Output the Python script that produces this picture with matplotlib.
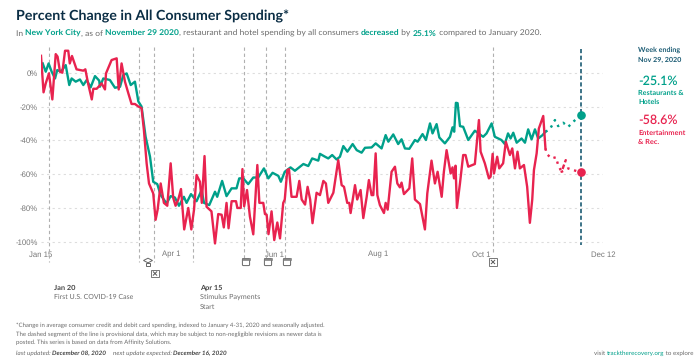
import matplotlib
matplotlib.use("Agg")
import matplotlib.pyplot as plt
from matplotlib.patches import Rectangle, FancyBboxPatch, Polygon

plt.rcParams['font.family'] = ['Lato', 'DejaVu Sans']
plt.rcParams['text.hinting'] = 'no_hinting'

# days counted from Jan 15 2020
red_days = [0, 1.5, 2.8, 4.7, 6.7, 8.7, 9.8, 11.2, 12.6, 14.2, 16.1, 17, 18.3, 21, 25, 26.2, 27.8, 30, 30.9, 32.9,
            35.8, 37.8, 38.4, 41.7, 44.7, 45.9, 47.6, 49.6, 51.6, 53.5, 55.5, 57.5, 59.4, 60.8, 62.4, 63.8, 66.3, 67.7, 68.9, 70.7,
            72.6, 74.6, 76.6, 78.1, 79.5, 81.1, 82.7, 84.6, 87, 88.8, 90.4, 91.9, 93.9, 95, 96.6, 97.8, 100.7, 102.8, 104.7, 106.7,
            108, 109.6, 110.8, 112.6, 115.2, 116, 118, 119, 120, 121.7, 123.4, 125.4, 127.8, 129, 131.3, 132.3, 133.3, 134.4, 136.2, 137.8,
            139.6, 141.2, 143.1, 144, 145.5, 146.5, 148, 151, 152.6, 154, 156, 157.5, 159, 160.4, 162.8, 164.8, 166.8, 168.3, 169.7, 172.7,
            175.6, 177.6, 179, 180.9, 182.1, 182.9, 185.5, 186.8, 188.8, 190.4, 192.4, 193.7, 195.3, 196.3, 197.7, 198.7, 200.2, 202.6, 203.6, 204.8,
            207.1, 209.1, 210.5, 212, 213, 214.4, 217.6, 219.3, 220.9, 223.9, 226.8, 228.2, 230.7, 232.7, 234.3, 236.7, 238, 239.6, 242, 243.1,
            244, 244.9, 245.7, 247.5, 249.4, 250.8, 252.4, 256.3, 258.7, 259.7, 262.2, 264.6, 265.6, 266.8, 267.6, 269.5, 270.7, 273, 274.6, 277,
            278.4, 280, 281.5, 282.9, 285.3, 287.2, 288.8, 290.2, 291.2, 292.8, 294.1, 296.7, 298]
red_vals = [10, -11.6, -6.3, -0.4, -15.8, 11, 9.5, 0.6, 0, 13, 13, 5.5, 9.9, 2, 1.2, 2, -6.3, -15.8, -9.5, -9.5,
            -6.3, -9.9, -0.4, 7.5, 8.5, -9.9, 5.5, -5.3, -12.2, -18.5, -18.5, -20, -21, -34, -53.6, -65.5, -71.4, -87, -81, -65.5,
            -77, -78.7, -53.6, -74, -78.7, -75, -68.8, -92.7, -80, -92.7, -81, -60.5, -64.5, -77, -49.3, -79.3, -82, -101, -83.6, -84,
            -91.5, -77, -92, -76, -76, -80, -80, -57, -79, -69.4, -85, -95.6, -54.6, -77, -77, -83.6, -84, -95.5, -82, -99,
            -88.6, -98, -77, -75, -57.6, -57, -73.4, -73.4, -64, -75, -78, -67.5, -75, -89, -71, -72.4, -64, -65.5, -77, -71,
            -51.7, -66.5, -67.5, -77, -77, -83, -66.5, -75, -69.4, -86, -73.4, -63.5, -72.4, -72.4, -47.7, -72.4, -78.3, -83, -77, -81,
            -58.6, -55.6, -65.5, -67.8, -65, -71.8, -68.4, -50.7, -75, -77.7, -92.7, -71.4, -52, -65.5, -58.6, -73.4, -58.6, -45.8, -59.6, -56,
            -62.5, -55, -80, -65.5, -48.7, -48.7, -55.6, -54, -28, -46.7, -53.6, -62.5, -61.5, -48, -59.6, -49.7, -56.6, -53.6, -40.8, -48.7,
            -44.8, -56.6, -46.7, -56.6, -54.6, -67.5, -88.8, -75, -57.6, -47.7, -33, -25.6, -44.8]
red_prov_days = [298, 298.7, 301.6, 304.2, 305.5, 307.5, 310, 307.5, 311.5, 316.4, 319]
red_prov_vals = [-44.8, -48, -50.7, -50, -54.6, -58.6, -51.7, -58.6, -56.6, -58.2, -58.6]

green_days = [1, 2.8, 4.5, 6.3, 8.3, 9.6, 11.8, 14.6, 16.7, 18.1, 20.5, 23, 25, 27, 29.3, 31.9, 34.4, 34.8, 36.8, 40.7,
              43.7, 46.7, 48.6, 50.6, 53, 55.5, 57.5, 59.4, 61.8, 64.4, 66.3, 68.7, 70.7, 74.2, 76.6, 79.1, 81.5, 84.4, 86, 88.6,
              91.9, 94.9, 96.3, 99.4, 102.8, 104.1, 107, 109.6, 112.6, 115.5, 117.1, 119.5, 122.4, 125.4, 128.3, 131.7, 134.3, 136.8, 140.2, 141.7,
              144, 147.4, 150, 155, 157.9, 160.2, 163.8, 164.8, 167.8, 169.7, 172, 174.6, 176.6, 178.6, 181, 184.1, 186.5, 189.4, 191.4, 195.3,
              197.7, 201.2, 203.6, 205.2, 208.1, 211, 213, 215, 217.6, 220.9, 222.5, 225.4, 227.4, 229.8, 231.3, 233.7, 235.3, 238.6, 241.6, 243.1,
              244.1, 245.1, 246.1, 247.5, 249.4, 252.4, 256.3, 261.2, 263.2, 266.2, 268.1, 272, 274, 275.9, 277.4, 279, 281, 283.9, 285.9, 287.8,
              289.8, 291.8, 293.7, 296.3, 298]
green_vals = [5.5, 0.6, 5.5, 0.6, -3.4, 1.6, 0.6, 4.5, -7.3, -3.4, -5.3, -4, -7.3, -4.3, -8.7, -2, -4.7, -8.3, -3.4, -4.3,
              -8.9, -8.3, -1.4, -0.4, -7.3, -5.3, -17, -20, -37.9, -49.7, -64.5, -65.9, -72.4, -77.3, -73, -73.8, -78.7, -73.4, -77, -71.8,
              -76, -69.4, -77, -78.3, -70.4, -73.4, -64, -73, -68.4, -68.4, -62.5, -62.5, -65.9, -62, -62, -56.6, -62.5, -59.2, -61, -64.5,
              -58.6, -56, -58, -54, -55.2, -50.7, -52, -48, -49.7, -50.7, -48.7, -51.3, -49.7, -43.4, -46.7, -42.2, -45.8, -47.3, -44.4, -44.2,
              -41.8, -44.8, -36.9, -40.8, -36.5, -42.2, -39.4, -44.8, -45, -39.8, -40.8, -36.3, -39.8, -30, -35.9, -30.4, -38.3, -41.8, -37.9, -32.3,
              -34.9, -17.8, -18, -31.6, -32, -39.8, -34.3, -37.9, -35.9, -30, -37.9, -39.8, -42.2, -35.9, -38.9, -35.5, -41.4, -38.9, -41.4, -33.5,
              -39.4, -33.5, -38.9, -36.9, -34.9]
green_prov_days = [298, 300.6, 303.6, 305.5, 308.5, 311.5, 314.4, 319]
green_prov_vals = [-34.9, -33.5, -28, -31.6, -29.6, -32, -29, -25.1]

x_ticks = [0, 77, 138, 199, 260, 332]
x_labels = ['Jan 15', 'Apr 1', 'Jun 1', 'Aug 1', 'Oct 1', 'Dec 12']
y_ticks = [0, -20, -40, -60, -80, -100]
y_labels = ['0%', '-20%', '-40%', '-60%', '-80%', '-100%']
event_days = [5, 57.8, 66.8, 90, 120, 132.8, 144, 267]
event_ends = [-112, -112, -112, -112, -112, -112, -112, -107]
last_day = 319

GREEN = '#00A08A'
RED = '#E8234F'
DARK = '#0B2E45'
TEAL = '#1B5B73'
GREY = '#6b6b6b'

fig = plt.figure(figsize=(7, 3.61), dpi=100)
W, H = 700, 361


def px_axes(left, top, right, bottom):
    return fig.add_axes([left / W, 1 - bottom / H, (right - left) / W, (bottom - top) / H])


# overlay in pixels for the texts and icons
over = fig.add_axes([0, 0, 1, 1], zorder=5)
over.set_xlim(0, W)
over.set_ylim(H, 0)
over.axis('off')

ax = px_axes(41, 46, 603, 246)
ax.set_xlim(0, 332)
ax.set_ylim(-102.5, 15.8)
for s in ax.spines.values():
    s.set_visible(False)
ax.set_xticks(x_ticks)
ax.set_xticklabels(x_labels, family='Liberation Sans', fontsize=5.6, color='#777777',
                   bbox=dict(fc='white', ec='none', pad=0.6))
ax.set_yticks(y_ticks)
ax.set_yticklabels(y_labels, family='Liberation Sans', fontsize=5.6, color='#777777')
ax.tick_params(length=0)
ax.tick_params(axis='x', pad=3.5)
ax.tick_params(axis='y', pad=2)
ax.grid(axis='y', color='#dddddd', lw=0.8, linestyle=(0, (2, 3)))
ax.set_axisbelow(True)

for d, e in zip(event_days, event_ends):
    ax.plot([d, d], [15.5, e], color='#b0b0b0', lw=0.8, linestyle=(0, (3, 2.5)), clip_on=False, zorder=1)
ax.plot([last_day, last_day], [14, -102], color=TEAL, lw=1.2, linestyle=(0, (2.5, 1.5)), zorder=1.5)

ax.plot(green_days, green_vals, color=GREEN, lw=1.7, solid_joinstyle='round', zorder=3)
ax.plot(red_days, red_vals, color=RED, lw=1.7, solid_joinstyle='round', zorder=4)
ax.plot(green_prov_days, green_prov_vals, color=GREEN, lw=1.7, linestyle=(0, (1, 2)), zorder=3)
ax.plot(red_prov_days, red_prov_vals, color=RED, lw=1.7, linestyle=(0, (1, 2)), zorder=4)
ax.plot([last_day], [green_prov_vals[-1]], 'o', color=GREEN, ms=5.2, zorder=5)
ax.plot([last_day], [red_prov_vals[-1]], 'o', color=RED, ms=5.2, zorder=5)


def runs(x, y, parts, size, **kw):
    # text pieces of different colour and weight, one after the other
    rend = fig.canvas.get_renderer()
    for s, color, weight in parts:
        t = over.text(x, y, s, fontsize=size, color=color, weight=weight, va='baseline', ha='left', **kw)
        x += t.get_window_extent(rend).width


def box_icon(x, y):
    over.add_patch(Rectangle((x - 3.7, y - 3.7), 7.4, 7.4, fc='white', ec='#777777', lw=0.7))
    over.plot([x - 1.7, x + 1.7], [y - 1.7, y + 1.7], color='#555555', lw=0.7)
    over.plot([x - 1.7, x + 1.7], [y + 1.7, y - 1.7], color='#555555', lw=0.7)


def store_icon(x, y):
    over.add_patch(FancyBboxPatch((x - 3.6, y - 3.4), 7.2, 7, boxstyle='round,pad=0,rounding_size=1',
                                  fc='white', ec='#666666', lw=0.7))
    over.add_patch(Rectangle((x - 4, y - 3.6), 8, 2, fc='#888888', ec='#777777', lw=0.4))


def cap_icon(x, y):
    over.add_patch(Polygon([(x - 4.5, y - 1.5), (x, y - 3.8), (x + 4.5, y - 1.5), (x, y + 0.8)],
                           closed=True, fc='white', ec='#666666', lw=0.7))
    over.add_patch(Rectangle((x - 2.4, y + 0.6), 4.8, 3, fc='white', ec='#666666', lw=0.7))


cap_icon(148, 262)
box_icon(155, 273.5)
store_icon(246, 262)
store_icon(268, 262)
store_icon(287, 262)
box_icon(493, 262)

over.text(16, 16, 'Percent Change in All Consumer Spending*', fontsize=10.3, weight='bold', color=DARK, va='center')
runs(16, 36, [('In ', GREY, 'normal'), ('New York City', GREEN, 'bold'), (', as of ', GREY, 'normal'),
              ('November 29 2020', GREEN, 'bold'), (', restaurant and hotel spending by all consumers ', GREY, 'normal'),
              ('decreased', GREEN, 'bold'), (' by ', GREY, 'normal'), ('25.1%', GREEN, 'bold'),
              (' compared to January 2020.', GREY, 'normal')], 6.1)

over.text(638, 50, 'Week ending', fontsize=5.1, weight='bold', color=TEAL, va='center')
over.text(638, 60, 'Nov 29, 2020', fontsize=5.1, weight='bold', color=TEAL, va='center')
over.text(638, 81, '-25.1%', fontsize=9, color=GREEN, weight='semibold', va='center')
over.text(638, 93, 'Restaurants &', fontsize=5.2, weight='bold', color=GREEN, va='center')
over.text(638, 102, 'Hotels', fontsize=5.2, weight='bold', color=GREEN, va='center')
over.text(638, 120, '-58.6%', fontsize=9, color=RED, weight='semibold', va='center')
over.text(638, 132.5, 'Entertainment', fontsize=5.3, weight='bold', color=RED, va='center')
over.text(638, 142, '& Rec.', fontsize=5.3, weight='bold', color=RED, va='center')

over.text(54, 288, 'Jan 20', fontsize=5.3, weight='bold', color='#444444', va='center')
over.text(54, 297, 'First U.S. COVID-19 Case', fontsize=5, color=GREY, va='center')
over.text(200, 288, 'Apr 15', fontsize=5.3, weight='bold', color='#444444', va='center')
over.text(200, 297, 'Stimulus Payments', fontsize=5.2, color=GREY, va='center')
over.text(200, 306.5, 'Start', fontsize=5.2, color=GREY, va='center')

over.text(16, 325, '*Change in average consumer credit and debit card spending, indexed to January 4-31, 2020 and seasonally adjusted.',
          fontsize=4.35, color=GREY, va='center')
over.text(16, 334, 'The dashed segment of the line is provisional data, which may be subject to non-negligible revisions as newer data is',
          fontsize=4.35, color=GREY, va='center')
over.text(16, 342.5, 'posted. This series is based on data from Affinity Solutions.', fontsize=4.35, color=GREY, va='center')

runs(16, 355, [('last updated: ', GREY, 'normal'), ('December 08, 2020', '#444444', 'bold')], 4.6, style='italic')
runs(113, 355, [('next update expected: ', GREY, 'normal'), ('December 16, 2020', '#444444', 'bold')], 4.6, style='italic')
runs(594, 355, [('visit ', GREY, 'normal'), ('tracktherecovery.org', GREEN, 'normal'), (' to explore', GREY, 'normal')], 4.5)

fig.savefig('out.png', dpi=100)
